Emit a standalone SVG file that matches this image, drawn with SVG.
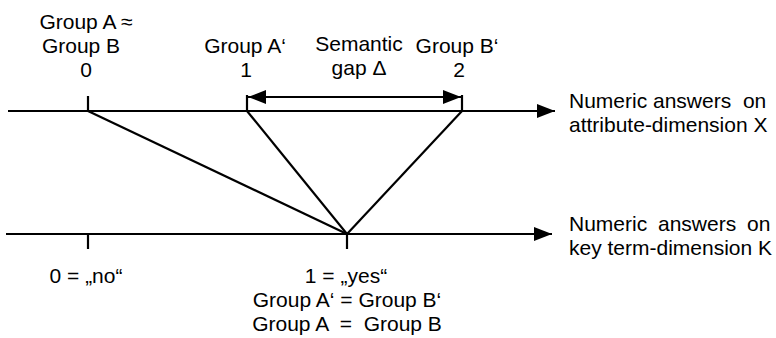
<svg xmlns="http://www.w3.org/2000/svg" width="776" height="338" viewBox="0 0 776 338">
<style>
text{font-family:"Liberation Sans",Arial,sans-serif;font-size:21px;fill:#000}
.m{text-anchor:middle}
line{stroke:#000;stroke-width:2.2;fill:none}
</style>
<defs>
<marker id="ah" markerUnits="userSpaceOnUse" markerWidth="20" markerHeight="16" refX="18" refY="7" orient="auto">
<path d="M0,0 L18,7 L0,14 Z" fill="#000"/>
</marker>
<marker id="ahs" markerUnits="userSpaceOnUse" markerWidth="20" markerHeight="16" refX="0" refY="7" orient="auto">
<path d="M18,0 L0,7 L18,14 Z" fill="#000"/>
</marker>
</defs>
<g id="connectors">
<line x1="8" y1="111" x2="555" y2="111" marker-end="url(#ah)"/>
<line x1="6" y1="234" x2="552" y2="234" marker-end="url(#ah)"/>
<line x1="88" y1="96" x2="88" y2="111"/>
<line x1="247" y1="95" x2="247" y2="111"/>
<line x1="462" y1="95" x2="462" y2="111"/>
<line x1="248" y1="97" x2="461" y2="97" marker-start="url(#ahs)" marker-end="url(#ah)"/>
<line x1="88" y1="111" x2="347" y2="234"/>
<line x1="247" y1="111" x2="347" y2="234"/>
<line x1="462" y1="111" x2="347" y2="234"/>
<line x1="88" y1="234" x2="88" y2="249"/>
<line x1="347" y1="234" x2="347" y2="249"/>
</g>
<g id="label-0">
<text class="m" x="86" y="29">Group A ≈</text>
<text class="m" x="81" y="53">Group B</text>
<text class="m" x="86" y="77">0</text>
</g>
<g id="label-1">
<text class="m" x="245" y="53">Group A‘</text>
<text class="m" x="246" y="77">1</text>
</g>
<g id="label-gap">
<text class="m" x="359" y="51">Semantic</text>
<text class="m" x="359" y="75">gap Δ</text>
</g>
<g id="label-2">
<text class="m" x="457" y="53">Group B‘</text>
<text class="m" x="459" y="77">2</text>
</g>
<g id="axis-x-label">
<text x="569" y="108" xml:space="preserve">Numeric answers  on</text>
<text x="569" y="132">attribute-dimension X</text>
</g>
<g id="axis-k-label">
<text x="569" y="231" word-spacing="5">Numeric answers on</text>
<text x="569" y="255">key term-dimension K</text>
</g>
<g id="label-no">
<text class="m" x="86" y="283">0 = „no“</text>
</g>
<g id="label-yes">
<text class="m" x="346" y="283">1 = „yes“</text>
<text class="m" x="347" y="307">Group A‘ = Group B‘</text>
<text class="m" x="347" y="331" xml:space="preserve">Group A  =  Group B</text>
</g>
</svg>
